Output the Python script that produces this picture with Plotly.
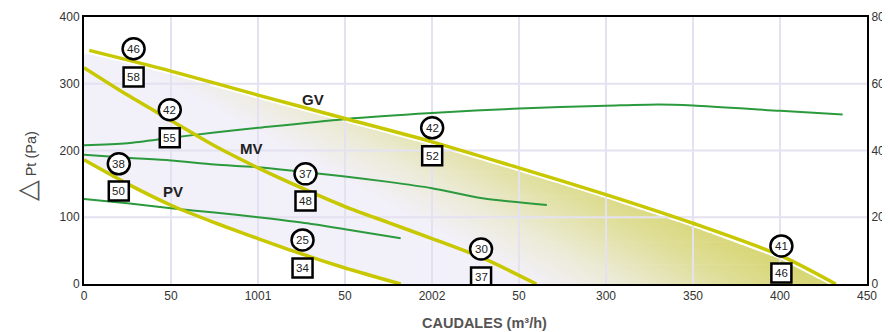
import numpy as np
import plotly.graph_objects as go

# ---------------- data ----------------
# fan curves (Pa) vs flow (m3/h)
gv_x = [3, 50, 100, 150, 200, 250, 300, 350, 400, 432]
gv_y = [350, 319, 283, 248, 213, 174, 134, 91, 43, 0]
mv_x = [0, 25, 50, 75, 100, 125, 150, 175, 200, 229, 260]
mv_y = [324, 283, 245, 207, 174, 144, 116, 92, 68, 39, 0]
pv_x = [0, 25, 50, 75, 100, 125, 150, 182]
pv_y = [186, 150, 118, 92, 68, 45, 24, 0]

# green curves (right axis units, 0-80)
gv2_x = [0, 25, 50, 75, 100, 150, 200, 250, 300, 330, 350, 400, 436]
gv2_y = [41.6, 42.2, 43.8, 45.4, 46.8, 49.4, 51.2, 52.6, 53.4, 53.8, 53.5, 51.9, 50.8]
mv2_x = [0, 25, 50, 75, 100, 150, 175, 200, 229, 266]
mv2_y = [38.7, 37.8, 37.0, 35.8, 35.0, 32.2, 30.6, 28.7, 25.7, 23.7]
pv2_x = [0, 25, 50, 75, 100, 125, 150, 182]
pv2_y = [25.5, 24.2, 22.7, 21.4, 20.0, 18.4, 16.4, 13.7]

# badges
badge_x = [28.5, 49.3, 20.0, 127.3, 125.6, 200.1, 228.2, 400.8]
circle_y = [352.5, 261, 180, 165, 66, 234, 52.5, 57]
circle_txt = ["46", "42", "38", "37", "25", "42", "30", "41"]
box_y = [310, 219, 139.5, 124.5, 24, 192, 10.5, 16.5]
box_txt = ["58", "55", "50", "48", "34", "52", "37", "46"]

curve_names = ["GV", "MV", "PV"]
curve_label_x = [131.6, 96, 51]
curve_label_y = [276, 202.5, 138]

x_tick_vals = [0, 50, 100, 150, 200, 250, 300, 350, 400, 450]
x_tick_text = ["0", "50", "1001", "50", "2002", "50", "300", "350", "400", "450"]
y_tick_vals = [0, 100, 200, 300, 400]
y2_tick_vals = [0, 20, 40, 60, 80]

# ---------------- style ----------------
YEL = "#c8c800"
GRN = "#2b9a3d"
GRID = "#e4e1f0"
FONT = "Liberation Sans, Arial, sans-serif"
Y2_SCALE = 400 / 80

fig = go.Figure()

# ---------- gradient fill between PV curve and GV curve (diagonal gradient via bands) ----------
gx = np.array(gv_x, float)
gy = np.array(gv_y, float) - 5.5  # small white gap under GV line
pxa = np.array(pv_x, float)
pya = np.array(pv_y, float)


def x_right(y):
    return np.interp(y, gy[::-1], gx[::-1])


def x_left(y):
    return np.interp(y, pya[::-1], pxa[::-1])


y_top = gy.max()
edges = np.linspace(0, y_top, 61)
cs = [[0, "#f2f0f8"], [0.3, "#ecebd8"], [0.72, "#dfde98"], [1, "#d8d778"]]
for i in range(len(edges) - 1):
    ya = edges[i]
    yb = min(edges[i + 1] + 0.9, y_top)
    ys = np.linspace(ya, yb, 8)
    xl = np.maximum(x_left(ys), 0)
    xr = x_right(ys)
    polx = np.concatenate([xl, xr[::-1]])
    poly = np.concatenate([ys, ys[::-1]])
    yc = 0.5 * (ya + yb)
    fig.add_trace(go.Scatter(
        x=polx, y=poly, mode="lines", fill="toself",
        line=dict(width=0, color="rgba(0,0,0,0)"),
        fillgradient=dict(type="horizontal", colorscale=cs,
                          start=260 - 0.7 * yc, stop=420 - 0.7 * yc),
        hoverinfo="skip", showlegend=False))

# ---------- grid lines (drawn above the fill) ----------
for xv in x_tick_vals[1:-1]:
    fig.add_trace(go.Scatter(x=[xv, xv], y=[y_tick_vals[0], y_tick_vals[-1]], mode="lines",
                             line=dict(color=GRID, width=2), hoverinfo="skip", showlegend=False))
for yv in y_tick_vals[1:-1]:
    fig.add_trace(go.Scatter(x=[x_tick_vals[0], x_tick_vals[-1]], y=[yv, yv], mode="lines",
                             line=dict(color=GRID, width=2), hoverinfo="skip", showlegend=False))

# ---------- green curves (right-axis values, drawn on the shared scale) ----------
for xs, ys in [(gv2_x, gv2_y), (mv2_x, mv2_y), (pv2_x, pv2_y)]:
    fig.add_trace(go.Scatter(x=xs, y=[v * Y2_SCALE for v in ys], mode="lines",
                             line=dict(color=GRN, width=2, shape="spline", smoothing=0.8),
                             hoverinfo="skip", showlegend=False))

# ---------- fan curves ----------
for xs, ys in [(gv_x, gv_y), (mv_x, mv_y), (pv_x, pv_y)]:
    fig.add_trace(go.Scatter(x=xs, y=ys, mode="lines",
                             line=dict(color=YEL, width=3.5, shape="spline", smoothing=0.8),
                             hoverinfo="skip", showlegend=False))

# dummy trace to realise the right axis
fig.add_trace(go.Scatter(x=[None], y=[None], yaxis="y2", showlegend=False, hoverinfo="skip"))

# ---------- badges ----------
shapes = []
annotations = []
for bx, cy, ct in zip(badge_x, circle_y, circle_txt):
    shapes.append(dict(type="circle", xref="x", yref="y", xsizemode="pixel", ysizemode="pixel",
                       xanchor=bx, yanchor=cy, x0=-11, x1=11, y0=-10.5, y1=10.5,
                       line=dict(color="black", width=2.5), fillcolor="white", layer="above"))
    annotations.append(dict(x=bx, y=cy, xref="x", yref="y", text=ct, showarrow=False,
                            font=dict(family=FONT, size=11.5, color="#222")))
for bx, by, bt in zip(badge_x, box_y, box_txt):
    shapes.append(dict(type="rect", xref="x", yref="y", xsizemode="pixel", ysizemode="pixel",
                       xanchor=bx, yanchor=by, x0=-10, x1=10, y0=-9.5, y1=9.5,
                       line=dict(color="black", width=2.5), fillcolor="white", layer="above"))
    annotations.append(dict(x=bx, y=by, xref="x", yref="y", text=bt, showarrow=False,
                            font=dict(family=FONT, size=11.5, color="#222")))

for nm, lx, ly in zip(curve_names, curve_label_x, curve_label_y):
    annotations.append(dict(x=lx, y=ly, xref="x", yref="y", text="<b>%s</b>" % nm, showarrow=False,
                            font=dict(family=FONT, size=15, color="#222")))

# axis titles
annotations.append(dict(x=-0.073, y=0.44, xref="paper", yref="paper", textangle=-90,
                        xanchor="center", yanchor="middle",
                        text='<span style="font-size:27px;color:#555">△</span> Pt (Pa)',
                        showarrow=False, font=dict(family=FONT, size=14.5, color="#444")))
annotations.append(dict(x=0.512, y=-0.146, xref="paper", yref="paper",
                        xanchor="center", yanchor="middle",
                        text="<b>CAUDALES (m³/h)</b>", showarrow=False,
                        font=dict(family=FONT, size=14.5, color="#555")))

axis_common = dict(showline=True, linecolor="black", linewidth=2, showgrid=False, automargin=False,
                   zeroline=False, ticks="", tickfont=dict(family=FONT, size=12, color="#333"))

# page body has an 8px margin: figure is sized/offset so the plot lands where the reference has it
fig.update_layout(
    width=882, height=324,
    margin=dict(l=76, r=23, t=9, b=48, autoexpand=False),
    paper_bgcolor="white", plot_bgcolor="white",
    showlegend=False,
    shapes=shapes, annotations=annotations,
    xaxis=dict(range=[0, 450], tickvals=x_tick_vals, ticktext=x_tick_text, mirror=True, **axis_common),
    yaxis=dict(range=[0, 400], tickvals=y_tick_vals, mirror=True, **axis_common),
    yaxis2=dict(range=[0, 80], tickvals=y2_tick_vals, overlaying="y", side="right", **axis_common),
)

fig.write_html("out.html")
